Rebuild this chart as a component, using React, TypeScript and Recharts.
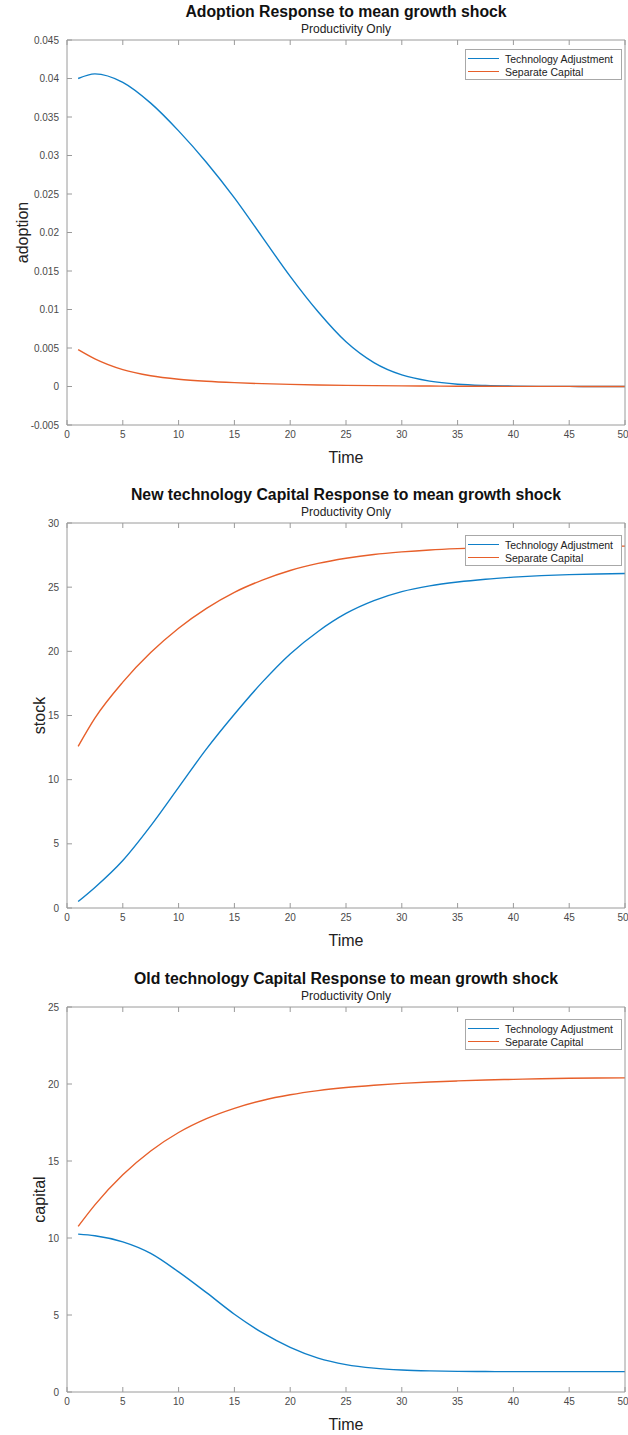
import React from "react";
import { LineChart, Line, XAxis, YAxis, Legend } from "recharts";

// sample times
const time = [1, 2.5, 5, 7.5, 10, 12.5, 15, 17.5, 20, 22.5, 25, 27.5, 30, 32.5, 35, 37.5, 40, 42.5, 45, 47.5, 50];

const adoptionTech = [0.04, 0.0406, 0.0395, 0.0368, 0.0332, 0.0291, 0.0245, 0.0194, 0.0143, 0.0097, 0.0058, 0.0031, 0.0015, 0.0007, 0.0003, 0.00013, 0.00005, 0.00002, 0.00001, 0, 0];
const adoptionSep = [0.0048, 0.0036, 0.0022, 0.0014, 0.00095, 0.00068, 0.0005, 0.00037, 0.00027, 0.0002, 0.00015, 0.00011, 0.00008, 0.00006, 0.00004, 0.00003, 0.00002, 0.00001, 0.00001, 0, 0];

const stockTech = [0.5, 1.6, 3.7, 6.4, 9.4, 12.4, 15.1, 17.6, 19.8, 21.55, 22.95, 23.95, 24.65, 25.1, 25.4, 25.62, 25.78, 25.9, 25.98, 26.03, 26.06];
const stockSep = [12.6, 14.8, 17.6, 19.9, 21.8, 23.35, 24.6, 25.55, 26.3, 26.85, 27.25, 27.55, 27.75, 27.9, 28.0, 28.07, 28.12, 28.15, 28.17, 28.19, 28.2];

const capitalTech = [10.25, 10.15, 9.75, 9.0, 7.8, 6.45, 5.05, 3.85, 2.9, 2.2, 1.78, 1.55, 1.43, 1.37, 1.34, 1.33, 1.32, 1.32, 1.32, 1.32, 1.32];
const capitalSep = [10.75, 12.15, 14.1, 15.65, 16.85, 17.75, 18.42, 18.93, 19.3, 19.57, 19.77, 19.92, 20.04, 20.13, 20.2, 20.26, 20.3, 20.34, 20.37, 20.39, 20.4];

const seriesNames = ["Technology Adjustment", "Separate Capital"];

const timeTicks = [0, 5, 10, 15, 20, 25, 30, 35, 40, 45, 50];
const adoptionTicks = [-0.005, 0, 0.005, 0.01, 0.015, 0.02, 0.025, 0.03, 0.035, 0.04, 0.045];
const stockTicks = [0, 5, 10, 15, 20, 25, 30];
const capitalTicks = [0, 5, 10, 15, 20, 25];

const BLUE = "#0f7fc8";
const ORANGE = "#e75f2a";
const AXIS = "#9a9a9a";
const TICK = "#4a4a4a";
const FONT = "'Liberation Sans', Arial, sans-serif";

const LegendBox = ({ payload }: any) => {
  const items = [...(payload || [])].sort(
    (a: any, b: any) => seriesNames.indexOf(a.value) - seriesNames.indexOf(b.value)
  );
  return (
    <div
      style={{
        width: 157,
        height: 31,
        boxSizing: "border-box",
        border: "1px solid #a8a8a8",
        background: "#fff",
        padding: "2px 0 0 2px",
        fontFamily: FONT,
        fontSize: 10.5,
        color: "#222",
      }}
    >
      {items.map((p: any) => (
        <div key={p.value} style={{ display: "flex", alignItems: "center", height: 13 }}>
          <span style={{ width: 31, borderTop: `1.5px solid ${p.color}`, marginRight: 6 }} />
          <span>{p.value}</span>
        </div>
      ))}
    </div>
  );
};

function Panel({
  top,
  title,
  yLabel,
  yLabelX,
  tech,
  sep,
  yTicks,
  legendTop,
}: {
  top: number;
  title: string;
  yLabel: string;
  yLabelX: number;
  tech: number[];
  sep: number[];
  yTicks: number[];
  legendTop: number;
}) {
  const data = time.map((t, i) => ({ t, tech: tech[i], sep: sep[i] }));
  const yDomain = [yTicks[0], yTicks[yTicks.length - 1]];
  const tickStyle = { fontSize: 10, fill: TICK, fontFamily: FONT };

  return (
    <div style={{ position: "absolute", top, left: 0, width: 628, height: 468 }}>
      <div
        style={{
          position: "absolute",
          top: 3,
          left: 67,
          width: 558,
          textAlign: "center",
          fontFamily: FONT,
          fontWeight: "bold",
          fontSize: 15.8,
          lineHeight: "18px",
          color: "#111",
        }}
      >
        {title}
      </div>
      <div
        style={{
          position: "absolute",
          top: 22,
          left: 67,
          width: 558,
          textAlign: "center",
          fontFamily: FONT,
          fontSize: 12,
          lineHeight: "14px",
          color: "#222",
        }}
      >
        Productivity Only
      </div>
      <LineChart width={628} height={468} data={data} margin={{ top: 39, right: 2, bottom: 0, left: 0 }}>
        <XAxis
          dataKey="t"
          type="number"
          domain={[0, 50]}
          ticks={timeTicks}
          height={43}
          tickSize={-5}
          tickMargin={11}
          stroke={AXIS}
          tick={tickStyle}
          label={{ value: "Time", position: "insideBottom", offset: 5, style: { fontSize: 16, fill: "#222", fontFamily: FONT } }}
        />
        <XAxis
          xAxisId="top"
          orientation="top"
          dataKey="t"
          type="number"
          domain={[0, 50]}
          ticks={timeTicks}
          height={1}
          tickSize={-5}
          tickFormatter={() => ""}
          stroke={AXIS}
        />
        <YAxis
          type="number"
          domain={yDomain}
          ticks={yTicks}
          width={67}
          tickSize={-5}
          tickMargin={13}
          stroke={AXIS}
          tick={tickStyle}
          interval={0}
          label={{
            value: yLabel,
            angle: -90,
            position: "insideLeft",
            offset: yLabelX,
            style: { fontSize: 16, fill: "#222", fontFamily: FONT, textAnchor: "middle" },
          }}
        />
        <YAxis
          yAxisId="right"
          orientation="right"
          type="number"
          domain={yDomain}
          ticks={yTicks}
          width={1}
          tickSize={-5}
          tickFormatter={() => ""}
          stroke={AXIS}
        />
        <Legend
          layout="horizontal"
          verticalAlign="middle"
          align="center"
          content={LegendBox}
          wrapperStyle={{ top: legendTop, left: 465, width: 157 }}
        />
        <Line
          dataKey="tech"
          name="Technology Adjustment"
          type="monotone"
          stroke={BLUE}
          strokeWidth={1.4}
          dot={false}
          isAnimationActive={false}
        />
        <Line
          dataKey="sep"
          name="Separate Capital"
          type="monotone"
          stroke={ORANGE}
          strokeWidth={1.4}
          dot={false}
          isAnimationActive={false}
        />
      </LineChart>
    </div>
  );
}

export default function App() {
  return (
    <div
      style={{
        position: "absolute",
        top: 0,
        left: 0,
        width: 628,
        height: 1435,
        overflow: "hidden",
        background: "#fff",
      }}
    >
      <Panel
        top={0}
        title="Adoption Response to mean growth shock"
        yLabel="adoption"
        yLabelX={22}
        tech={adoptionTech}
        sep={adoptionSep}
        yTicks={adoptionTicks}
        legendTop={49}
      />
      <Panel
        top={483}
        title="New technology Capital Response to mean growth shock"
        yLabel="stock"
        yLabelX={39}
        tech={stockTech}
        sep={stockSep}
        yTicks={stockTicks}
        legendTop={52}
      />
      <Panel
        top={967}
        title="Old technology Capital Response to mean growth shock"
        yLabel="capital"
        yLabelX={39}
        tech={capitalTech}
        sep={capitalSep}
        yTicks={capitalTicks}
        legendTop={52}
      />
    </div>
  );
}
